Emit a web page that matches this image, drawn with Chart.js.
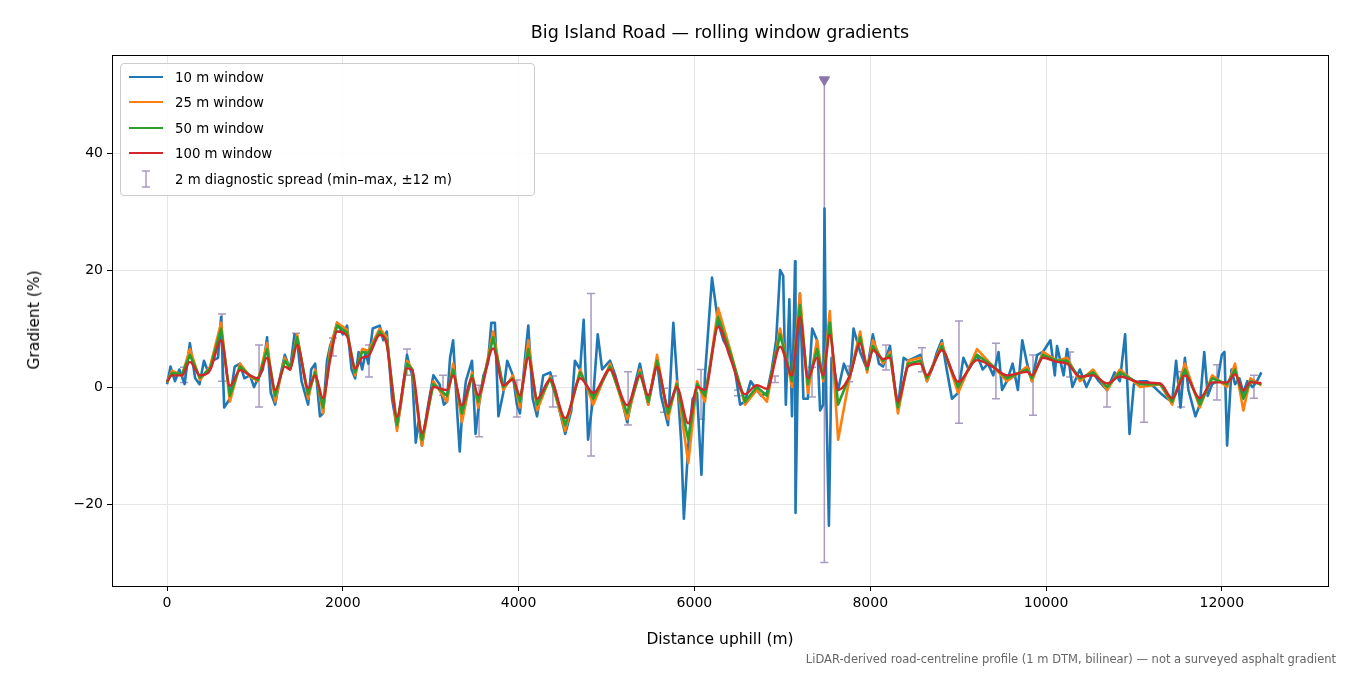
<!DOCTYPE html>
<html><head><meta charset="utf-8">
<script src="https://cdn.jsdelivr.net/npm/chart.js@4"></script>
<style>
body{margin:0;background:#fff;font-family:"DejaVu Sans",sans-serif;}
#wrap{position:relative;width:1350px;height:675px;}
#title{position:absolute;top:22px;left:112px;width:1216px;text-align:center;font-size:17.5px;color:#000;}
#xt{position:absolute;top:630px;left:112px;width:1216px;text-align:center;font-size:15.5px;color:#000;}
#yt{position:absolute;left:34px;top:320px;transform:translate(-50%,-50%) rotate(-90deg);font-size:15.5px;color:#000;white-space:nowrap;}
#note{position:absolute;right:14px;top:652px;font-size:11.5px;color:#666;}
#legend{position:absolute;left:120px;top:63px;width:413px;height:131px;border:1px solid #ccc;border-radius:4px;background:rgba(255,255,255,0.85);font-size:13.3px;}
.li{position:absolute;left:8px;height:20px;display:flex;align-items:center;}
.sw{width:34px;height:2px;margin-right:12px;}
</style></head><body>
<div id="wrap">
<canvas id="c" width="1350" height="675"></canvas>
<div id="title">Big Island Road — rolling window gradients</div>
<div id="xt">Distance uphill (m)</div>
<div id="yt">Gradient (%)</div>
<div id="legend">
 <div class="li" style="top:3px"><div class="sw" style="background:#1f77b4"></div>10 m window</div>
 <div class="li" style="top:28px"><div class="sw" style="background:#ff7f0e"></div>25 m window</div>
 <div class="li" style="top:54px"><div class="sw" style="background:#2ca02c"></div>50 m window</div>
 <div class="li" style="top:79px"><div class="sw" style="background:#d62728"></div>100 m window</div>
 <div class="li" style="top:105px"><svg width="34" height="20" style="margin-right:12px"><g stroke="#a89ac0" stroke-width="1.5"><line x1="17" y1="2" x2="17" y2="18"/><line x1="13" y1="2" x2="21" y2="2"/><line x1="13" y1="18" x2="21" y2="18"/></g></svg>2 m diagnostic spread (min–max, ±12 m)</div>
</div>
<div id="note">LiDAR-derived road-centreline profile (1 m DTM, bilinear) — not a surveyed asphalt gradient</div>
</div>
<script>
const distSmooth=[0,57,170,260,375,490,615,715,830,944,1035,1138,1230,1340,1400,1480,1605,1685,1775,1855,1935,2048,2140,2220,2290,2420,2500,2616,2730,2790,2900,3030,3185,3255,3355,3470,3540,3710,3825,3935,4015,4110,4210,4360,4530,4700,4850,5040,5235,5380,5475,5575,5700,5800,5930,6030,6120,6270,6405,6575,6710,6825,6975,7110,7200,7290,7395,7465,7540,7635,7770,7885,7965,8030,8145,8225,8315,8430,8570,8645,8815,9000,9215,9400,9555,9785,9840,9965,10125,10240,10385,10535,10695,10840,11070,11300,11435,11580,11750,11890,12060,12150,12245,12325,12450];
const grad100=[0.9,2,2,4.3,2,2.9,8,0.2,2.9,2,1.5,5,-0.5,3.5,3,7.2,-0.2,2,-1.9,4.6,9.5,8.7,3.2,5,5.3,8.9,7.2,-5.1,3.2,2.9,-7.9,0,-0.5,2,-3.1,1.5,-1.4,6.6,0.3,1.3,-1.4,5,-2,1.3,-5.3,1.5,-1,3,-3.1,2,-1.4,3.5,-3.4,0,-6.2,0,-0.5,10.3,5.1,-1.2,0.3,-0.3,6.9,2,12,1.5,5,2,8.9,-0.5,2,7.5,3.5,6.3,4.8,5,-2.5,3.5,4,2,6.3,0.9,4.6,3.4,2,2.6,2,5,4.3,4,1.8,2,0.6,1.8,0.8,0.6,-1.9,2,-1.9,0.8,0.8,2.2,-0.6,0.8,0.7];
const grad50=[0.9,2.4,2.2,5.5,1.6,3.2,10,-1.5,3.5,2,1.2,6.5,-1.5,4.5,3.2,8.5,-1.2,2.5,-3.5,5.5,10.5,9.3,2.5,6,5.8,9.5,8,-6.5,4,3,-9,0.5,-1.5,3,-4.5,2,-2.5,8.5,0,1.5,-2.5,6.5,-3,1.5,-6.5,2.5,-2,3.5,-4.5,2.5,-2.5,4.5,-4.5,0.5,-9,0.5,-1.5,12,6,-2.5,0,-1.5,9,1,14,0.5,6.5,1.5,11,-3,2,8.5,3,7,4.5,5.5,-3.5,4,4.5,1.5,7,0,5.5,3.5,1.5,3,1.5,5.5,4.5,4.5,1.5,2.5,0,2.5,0.5,0.5,-2.5,3,-3,1.5,0.5,3,-2,1,0.5];
const grad25=[0.8,2.8,2,6.5,1.2,3.5,11,-2.5,4,1.8,1,7.5,-2.5,5,3,9,-2,3,-4.5,6.5,11,9.8,2,6.5,6.2,10,8.5,-7.5,4.5,3,-10,1,-2.5,4,-6,2.5,-3.5,9.5,-0.5,2,-3.5,8,-4,1.8,-7.5,3,-3,4,-5.5,3,-3,5.5,-5.5,1,-13,1,-2.5,13.5,6.5,-3,-0.5,-2.5,10,0,16,-1,8,1,13,-9,2,9.5,2.5,8,4,6,-4.5,4.5,5,1,7.5,-1,6.5,3.5,1,3.5,1,6,4.5,5,1,3,-0.5,3,0,0.5,-3,4,-3.5,2,0,4,-4,1.5,0.3];
const dist10=[0,40,90,140,200,260,320,370,420,470,520,580,615,650,715,770,830,880,944,990,1035,1090,1138,1180,1230,1290,1340,1400,1450,1480,1530,1605,1640,1685,1740,1775,1820,1855,1900,1935,2000,2048,2100,2140,2180,2220,2260,2290,2340,2420,2460,2500,2560,2616,2660,2730,2760,2790,2830,2860,2900,2960,3030,3100,3150,3185,3220,3255,3300,3330,3355,3400,3470,3510,3540,3600,3650,3690,3730,3770,3825,3870,3935,3980,4015,4080,4110,4160,4210,4280,4360,4450,4530,4600,4640,4700,4740,4790,4850,4900,4950,5040,5100,5170,5235,5300,5380,5475,5575,5620,5700,5760,5800,5850,5880,5930,5980,6030,6080,6120,6200,6270,6330,6405,6460,6520,6575,6640,6710,6760,6825,6880,6930,6975,7010,7040,7080,7110,7145,7150,7180,7200,7240,7290,7340,7395,7430,7465,7480,7500,7530,7560,7635,7700,7770,7810,7885,7965,8030,8100,8145,8225,8270,8315,8380,8430,8500,8570,8645,8700,8760,8815,8870,8930,9000,9060,9120,9215,9280,9340,9400,9460,9500,9555,9620,9680,9730,9785,9840,9900,9965,10050,10100,10125,10200,10240,10300,10385,10460,10535,10600,10695,10780,10840,10900,10950,11000,11070,11150,11230,11300,11380,11435,11480,11530,11580,11620,11700,11750,11800,11840,11890,11950,12000,12030,12060,12110,12150,12200,12245,12290,12350,12400,12450];
const grad10=[0.5,3.5,1,3,0.5,7.5,1.5,0.5,4.5,2.5,4.5,5,12,-3.5,-2,3.5,4,1.5,2,0,1.5,3,8.5,-1,-3,2,5.5,3,9,8,1,-3,3,4,-5,-4.5,4.5,7,9,11,9,10.5,3,1.5,6,3,6,4,10,10.5,8,9.5,-2,-7,-3,5.5,3.5,2,-9.5,-6,-10,-4,2,0.5,-3,-2.5,5,8,-4,-11,-5,1,4.5,-8,-4,2,4,11,11,-5,-1,4.5,2,-3,-4.5,6,10.5,-2,-5,2,2.5,-3,-8,-4,4.5,3,11.5,-9,-1.5,9,3,4.5,2,-2,-6,-1,4,-3,4.5,-1.5,-6.5,11,2,-9.5,-22.5,-10,-2,-1,-15,2,18.7,11,8,6,3,-3,-2.5,1,-0.5,-1.5,-1,3,8,20,19,-3,15,-5,21.5,-21.5,6,16,-2,-2,10,8,-4,-3,30.5,-2,-23.7,5,-0.5,4,1.5,10,6,3,9,4,3.5,7,1,-3.5,5,4.5,5,5.5,1,3,6,8,3,-2,-1,5,3,5.5,3,4,2,6,-0.5,1,4,-0.5,8,4,1,5.5,6,8,2,7,2,6.5,0,3,0,2.5,1,-0.5,2.5,1,9,-8,0.5,1,1,0,-1,-2,-2.5,4.5,-3.5,5,-0.5,-5,-3,6,-1.5,0.5,1,5.5,6,-10,3,0.5,1.5,-1,1,0,1,2.5];
const spreadDist=[193,626,1047,1468,1888,2298,2730,3140,3550,3980,4390,4824,5245,5654,6075,6496,6917,7338,7478,7759,8180,8589,9010,9430,9852,10273,10694,11115,11536,11945,12366];
const spreadMin=[0.8,1,-3.4,7,5.3,1.7,2,-1.4,-8.5,-5.1,-3.4,-11.8,-6.5,-4.3,-5.5,-1.5,0.8,-1.7,-30,0.9,2.9,2.6,-6.2,-2,-4.8,1.7,-3.4,-6,-3.4,-2.2,-1.9];
const spreadMax=[3.4,12.5,7.2,9.2,8.4,7.2,6.5,2,0.3,1.2,1.9,16,2.6,-0.2,3,-0.5,1.9,3.4,52.5,3.6,7.2,6.7,11.3,7.5,5.5,6,0,0.8,2.6,3.8,2];
const xTicks=[0,2000,4000,6000,8000,10000,12000];
const yTicks=[-20,0,20,40];

const pts=(xs,ys)=>xs.slice(0,Math.min(xs.length,ys.length)).map((x,i)=>({x,y:ys[i]}));
const line=(data,color,w,order)=>({type:'line',data,borderColor:color,borderWidth:w,pointRadius:0,tension:0,order,fill:false,borderJoinStyle:'round'});
const errPlugin={id:'err',beforeDatasetsDraw(ch){
 const {ctx,scales:{x,y}}=ch;ctx.save();ctx.strokeStyle='#a89ac0';ctx.lineWidth=1.5;
 spreadDist.forEach((d,i)=>{const px=x.getPixelForValue(d),a=y.getPixelForValue(spreadMin[i]),b=y.getPixelForValue(spreadMax[i]);
  ctx.beginPath();ctx.moveTo(px,a);ctx.lineTo(px,b);ctx.moveTo(px-4,a);ctx.lineTo(px+4,a);ctx.moveTo(px-4,b);ctx.lineTo(px+4,b);ctx.stroke();});
 ctx.restore();}};
const fmt=v=>(v<0?'\u2212':'')+Math.abs(v);
new Chart(document.getElementById('c'),{
 data:{datasets:[
  line(pts(dist10,grad10),'#1f77b4',2.6,4),
  line(pts(distSmooth,grad25),'#ff7f0e',2.6,3),
  line(pts(distSmooth,grad50),'#2ca02c',2.6,2),
  {...line(pts(distSmooth,grad100),'#d62728',2.4,1),cubicInterpolationMode:'monotone'},
  {type:'scatter',data:[{x:spreadDist[18],y:spreadMax[18]}],pointStyle:'triangle',rotation:180,pointRadius:6,backgroundColor:'#8a76aa',borderColor:'#8a76aa',order:0}
 ]},
 options:{responsive:false,animation:false,
  layout:{padding:{top:55,right:22,left:0,bottom:0}},
  plugins:{legend:{display:false},tooltip:{enabled:false}},
  scales:{
   x:{type:'linear',min:-626,max:13208,
    afterBuildTicks:s=>{s.ticks=xTicks.map(v=>({value:v}));},
    afterFit:s=>{s.height=89;},
    ticks:{color:'#000',font:{size:14,family:'DejaVu Sans'},callback:v=>fmt(v),maxRotation:0,padding:4},
    grid:{color:'#e6e6e6',tickColor:'#000',tickLength:5},border:{color:'#000',width:1}},
   y:{type:'linear',min:-34,max:56.75,
    afterBuildTicks:s=>{s.ticks=yTicks.map(v=>({value:v}));},
    afterFit:s=>{s.width=112;},
    ticks:{color:'#000',font:{size:14,family:'DejaVu Sans'},callback:v=>fmt(v),padding:4},
    grid:{color:'#e6e6e6',tickColor:'#000',tickLength:5},border:{color:'#000',width:1}}
  }},
 plugins:[errPlugin,{id:'frame',afterDraw(ch){const {ctx,chartArea:a}=ch;ctx.save();ctx.strokeStyle='#000';ctx.lineWidth=1;ctx.strokeRect(a.left+0.5,a.top+0.5,a.right-a.left,a.bottom-a.top);ctx.restore();}}]
});
</script></body></html>
